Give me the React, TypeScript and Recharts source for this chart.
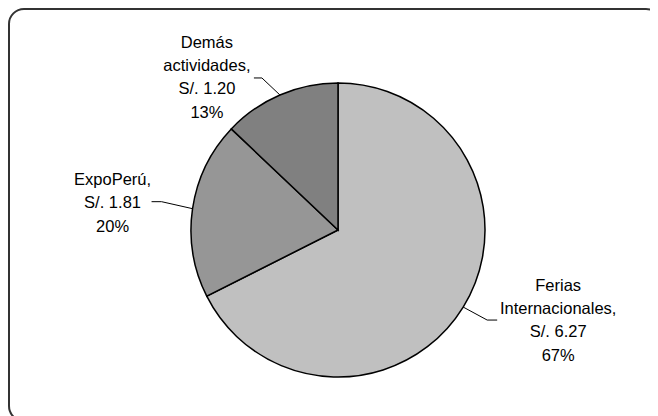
import React from "react";
import { PieChart, Pie, Cell } from "recharts";

const categories = ["Ferias Internacionales", "ExpoPerú", "Demás actividades"];
const values = [6.27, 1.81, 1.2];
const nameLines = [["Ferias", "Internacionales,"], ["ExpoPerú,"], ["Demás", "actividades,"]];
const valueLabels = ["S/. 6.27", "S/. 1.81", "S/. 1.20"];
const percentLabels = ["67%", "20%", "13%"];

const colors = ["#C0C0C0", "#969696", "#808080"];

const data = categories.map((c, i) => ({ name: c, value: values[i] }));

// label layout: elbow offset from arc point, horizontal tail, text block center offset from tail end
const layout = [
  { elbow: [24, 13], tail: 10, text: [61, 0] },
  { elbow: [-31, -7], tail: -10, text: [-39, 1] },
  { elbow: [-18, -17], tail: -8, text: [-47, -1] },
];

const RAD = Math.PI / 180;
const FONT = 16.5;
const LINE_H = 23.3;

const renderLabel = (props: any) => {
  const { cx, cy, midAngle, outerRadius, index } = props;
  const x0 = cx + Math.cos(-midAngle * RAD) * outerRadius;
  const y0 = cy + Math.sin(-midAngle * RAD) * outerRadius;
  const L = layout[index];
  const x1 = x0 + L.elbow[0];
  const y1 = y0 + L.elbow[1];
  const x2 = x1 + L.tail;
  const y2 = y1;
  const tx = x2 + L.text[0];
  const tcy = y2 + L.text[1];
  const lines = [...nameLines[index], valueLabels[index], percentLabels[index]];
  const startY = tcy - ((lines.length - 1) / 2) * LINE_H;
  return (
    <g key={`lbl-${index}`}>
      <polyline
        points={`${x0},${y0} ${x1},${y1} ${x2},${y2}`}
        fill="none"
        stroke="#000"
        strokeWidth={1}
      />
      <text
        x={tx}
        y={startY + FONT * 0.35}
        textAnchor="middle"
        fontFamily="'Liberation Sans', Arial, sans-serif"
        fontSize={FONT}
        fill="#000"
      >
        {lines.map((ln, i) => (
          <tspan key={i} x={tx} y={startY + i * LINE_H + FONT * 0.35}>
            {ln}
          </tspan>
        ))}
      </text>
    </g>
  );
};

export default function App() {
  return (
    <div style={{ position: "relative", width: 650, height: 408, overflow: "hidden", background: "#fff" }}>
      <div
        style={{
          position: "absolute",
          left: 0,
          top: 0,
          width: 654,
          height: 414,
          border: "2px solid #333",
          borderRadius: 16,
          boxSizing: "border-box",
        }}
      />
      <div style={{ position: "absolute", left: 0, top: 0 }}>
        <PieChart width={650} height={408} margin={{ top: 0, right: 0, bottom: 0, left: 0 }}>
          <Pie
            data={data}
            dataKey="value"
            nameKey="name"
            cx={330}
            cy={222}
            outerRadius={147}
            startAngle={90}
            endAngle={-270}
            stroke="#000"
            strokeWidth={1.5}
            label={renderLabel}
            labelLine={false}
            isAnimationActive={false}
          >
            {data.map((d, i) => (
              <Cell key={d.name} fill={colors[i]} />
            ))}
          </Pie>
        </PieChart>
      </div>
    </div>
  );
}
